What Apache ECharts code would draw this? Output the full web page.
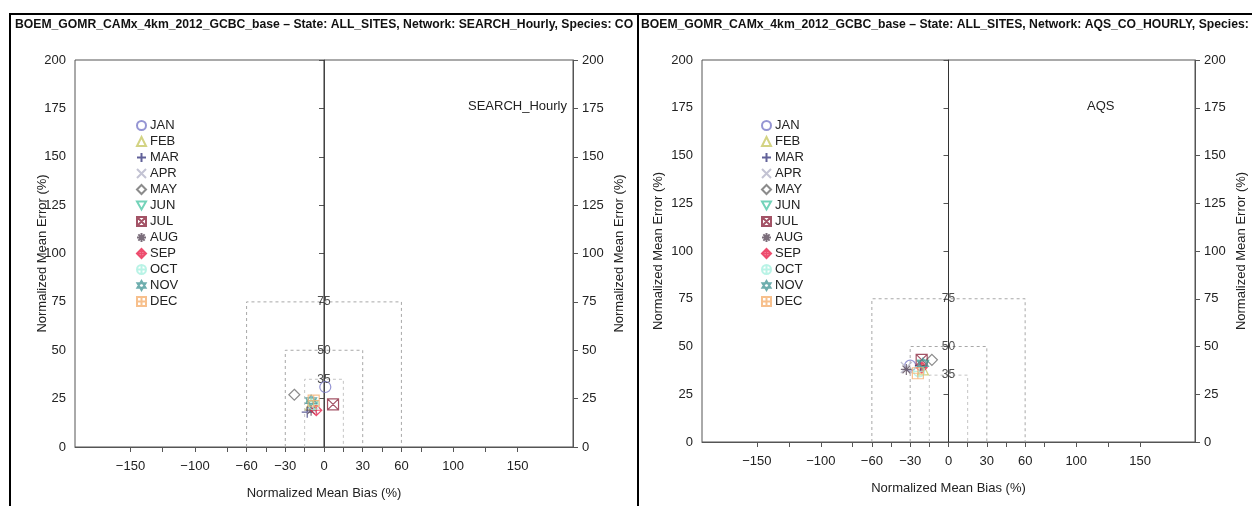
<!DOCTYPE html>
<html>
<head>
<meta charset="utf-8">
<script src="https://cdn.jsdelivr.net/npm/echarts@6/dist/echarts.min.js"></script>
<title>Soccer goal plot</title>
<style>
  html, body { margin: 0; padding: 0; background: #fff; }
  #main { width: 1252px; height: 506px; }
</style>
</head>
<body>
<div id="main"></div>
<script>
// months and their values (NMB = x, NME = y)
var months = ['JAN','FEB','MAR','APR','MAY','JUN','JUL','AUG','SEP','OCT','NOV','DEC'];
var searchNMB = [1, -10, -13, -9, -23, -9, 7, -10, -6, -8, -10, -8];
var searchNME = [31, 22, 18, 20, 27, 21, 22, 19, 19, 22, 24, 24];
var aqsNMB = [-30, -20, -22, -33, -13, -20, -21, -33, -21, -23, -20, -24];
var aqsNME = [40, 38, 40, 39, 43, 40, 43, 38, 39, 37, 41, 36];

// goal / criteria boxes: half width in NMB, height in NME
var boxNMB = [60, 30, 15];
var boxNME = [75, 50, 35];

var xLabelTicks = [-150, -100, -60, -30, 0, 30, 60, 100, 150];
var xMinorTicks = [-150, -125, -100, -75, -60, -45, -30, -15, 0, 15, 30, 45, 60, 75, 100, 125, 150];

var colors = ['#7b7bc8','#c8c864','#3a3a80','#b4b4c8','#6e6e6e','#50c8a8',
              '#8c2840','#5a4a5a','#e8204a','#a8f0e0','#4a9a9a','#f5b070'];
var symbols = [
  'circle',
  'triangle',
  'path://M10 0L10 20M0 10L20 10',
  'path://M0 0L20 20M0 20L20 0',
  'diamond',
  'path://M0 1L20 1L10 19Z',
  'path://M0 0H20V20H0ZM0 0L20 20M0 20L20 0',
  'path://M10 0V20M0 10H20M3 3L17 17M3 17L17 3',
  'path://M10 0L20 10L10 20L0 10ZM10 0V20M0 10H20',
  'path://M0 10A10 10 0 1 0 20 10A10 10 0 1 0 0 10ZM10 0V20M0 10H20',
  'path://M10 0L19 15H1ZM10 20L1 5H19Z',
  'path://M0 0H20V20H0ZM10 0V20M0 10H20'
];

var font = 'Liberation Sans, Arial, sans-serif';
var txt = '#222';
var axisCol = '#555';

var grids = [
  {left: 75, top: 60, width: 498, height: 387},
  {left: 702, top: 60, width: 493, height: 382}
];

function xAx(g) {
  return {
    type: 'value', gridIndex: g, min: -193, max: 193,
    name: 'Normalized Mean Bias (%)', nameLocation: 'middle', nameGap: 40,
    nameTextStyle: {fontFamily: font, fontSize: 13, color: txt},
    axisLine: {show: true, onZero: false, lineStyle: {color: axisCol}},
    axisTick: {show: true, length: 5, customValues: xMinorTicks, lineStyle: {color: axisCol}},
    axisLabel: {customValues: xLabelTicks, margin: 13, fontFamily: font, fontSize: 13, color: txt,
      formatter: function (v) { return v < 0 ? '\u2212' + (-v) : String(v); }},
    splitLine: {show: false}
  };
}
function yAx(g, pos, gap) {
  return {
    type: 'value', gridIndex: g, position: pos, min: 0, max: 200, interval: 25,
    name: 'Normalized Mean Error (%)', nameLocation: 'middle', nameGap: gap, nameRotate: 90,
    nameMoveOverlap: false,
    nameTextStyle: {fontFamily: font, fontSize: 13, color: txt},
    axisLine: {show: true, lineStyle: {color: axisCol}},
    axisTick: {show: true, length: 5, lineStyle: {color: axisCol}},
    axisLabel: {margin: 9, fontFamily: font, fontSize: 13, color: txt},
    splitLine: {show: false}
  };
}

var series = [];
function addPanel(g, nmb, nme) {
  // criteria boxes
  boxNMB.forEach(function (w, i) {
    var h = boxNME[i];
    series.push({
      type: 'line', xAxisIndex: g, yAxisIndex: g * 2, silent: true, symbol: 'none',
      lineStyle: {color: i === 2 ? '#c4c4c4' : '#a8a8a8', width: 1, type: [3, 3]},
      data: [[-w, 0], [-w, h], [w, h], [w, 0]], z: 1
    });
  });
  // zero line
  series.push({
    type: 'line', xAxisIndex: g, yAxisIndex: g * 2, silent: true, symbol: 'none',
    lineStyle: {color: '#333', width: 1}, data: [[0, 0], [0, 200]], z: 2
  });
  // box labels
  series.push({
    type: 'scatter', xAxisIndex: g, yAxisIndex: g * 2, silent: true, symbolSize: 0,
    data: boxNME.map(function (h) { return [0, h]; }),
    label: {show: true, position: 'inside', fontFamily: font, fontSize: 12, color: txt,
      formatter: function (p) { return p.value[1]; }}, z: 3
  });
  months.forEach(function (m, i) {
    series.push({
      name: m, type: 'scatter', xAxisIndex: g, yAxisIndex: g * 2,
      symbol: symbols[i], symbolSize: 11,
      itemStyle: {color: 'transparent', borderColor: colors[i], borderWidth: 1.2},
      data: [[nmb[i], nme[i]]], z: 5
    });
  });
}
addPanel(0, searchNMB, searchNME);
addPanel(1, aqsNMB, aqsNME);

function legendAt(left) {
  return {
    data: months, orient: 'vertical', left: left, top: 114,
    itemWidth: 9, itemHeight: 9, itemGap: 3, selectedMode: false,
    textStyle: {fontFamily: font, fontSize: 13, color: txt, lineHeight: 13, padding: [0, 0, 0, -1]}
  };
}

var chart = echarts.init(document.getElementById('main'));
chart.setOption({
  backgroundColor: '#fff',
  animation: false,
  title: [
    {text: 'BOEM_GOMR_CAMx_4km_2012_GCBC_base \u2013 State: ALL_SITES, Network: SEARCH_Hourly, Species: CO',
     left: 15, top: 19, padding: 0,
     textStyle: {fontFamily: font, fontSize: 12.2, fontWeight: 'bold', color: '#111'}},
    {text: 'BOEM_GOMR_CAMx_4km_2012_GCBC_base \u2013 State: ALL_SITES, Network: AQS_CO_HOURLY, Species: CO',
     left: 641, top: 19, padding: 0,
     textStyle: {fontFamily: font, fontSize: 12.2, fontWeight: 'bold', color: '#111'}},
    {text: 'SEARCH_Hourly', right: 1252 - 567, top: 100, padding: 0,
     textStyle: {fontFamily: font, fontSize: 13, fontWeight: 'normal', color: txt}},
    {text: 'AQS', left: 1087, top: 100, padding: 0,
     textStyle: {fontFamily: font, fontSize: 13, fontWeight: 'normal', color: txt}}
  ],
  legend: [legendAt(131), legendAt(756)],
  grid: grids.map(function (g) {
    return Object.assign({show: true, borderColor: axisCol, borderWidth: 1, containLabel: false}, g);
  }),
  xAxis: [xAx(0), xAx(1)],
  yAxis: [yAx(0, 'left', 26), yAx(0, 'right', 40), yAx(1, 'left', 37), yAx(1, 'right', 40)],
  series: series,
  graphic: [
    {type: 'line', shape: {x1: 9, y1: 14, x2: 1252, y2: 14}, style: {stroke: '#000', lineWidth: 2}},
    {type: 'line', shape: {x1: 10, y1: 14, x2: 10, y2: 506}, style: {stroke: '#000', lineWidth: 2}},
    {type: 'line', shape: {x1: 638, y1: 14, x2: 638, y2: 506}, style: {stroke: '#000', lineWidth: 2}}
  ]
});
</script>
</body>
</html>
